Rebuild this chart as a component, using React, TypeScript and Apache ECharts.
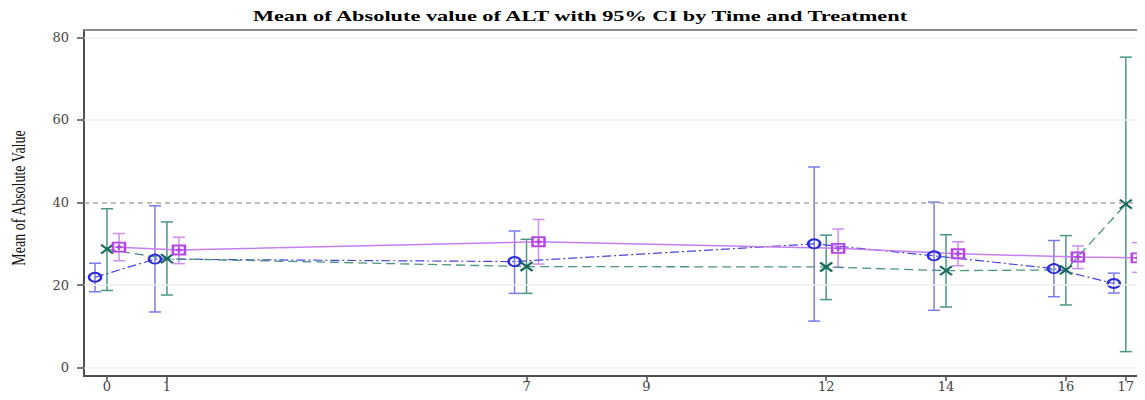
import { useEffect, useRef } from "react";
import * as echarts from "echarts";

const titleText = "Mean of Absolute value of ALT with 95% CI by Time and Treatment";
const yAxisTitle = "Mean of Absolute Value";

const timePoints = [0, 1, 7, 12, 14, 16, 17];
const xTickValues = [0, 1, 7, 9, 12, 14, 16, 17];
const yTickValues = [0, 20, 40, 60, 80];
const gridValues = [0, 20, 60, 80];
const referenceValue = 40;

// Group shown with blue circles (dash-dot line)
const blueMean = [21.9, 26.3, 25.7, 30.0, 27.1, 24.0, 20.4];
const blueLow = [18.4, 13.5, 18.0, 11.3, 13.9, 17.2, 18.1];
const blueHigh = [25.3, 39.2, 33.1, 48.6, 40.1, 30.8, 22.9];

// Group shown with teal crosses (dashed line)
const tealMean = [28.7, 26.4, 24.5, 24.4, 23.5, 23.7, 39.6];
const tealLow = [18.7, 17.6, 18.0, 16.5, 14.7, 15.2, 3.9];
const tealHigh = [38.5, 35.3, 31.1, 32.1, 32.2, 32.0, 75.2];

// Group shown with violet squares (solid line)
const violetMean = [29.2, 28.5, 30.5, 28.9, 27.6, 26.8, 26.6];
const violetLow = [25.9, 25.2, 25.1, 24.3, 24.7, 24.0, 23.1];
const violetHigh = [32.5, 31.6, 35.9, 33.6, 30.5, 29.5, 30.3];

const SERIF = "'Liberation Serif', 'Times New Roman', serif";
const TICK_FONT = "'DejaVu Serif', serif";

function errorBars(name: string, lows: number[], highs: number[], offset: number, color: string) {
  return {
    type: "custom",
    name: name + " CI",
    z: 2,
    silent: true,
    data: timePoints.map((t, i) => [t + offset, lows[i], highs[i]]),
    encode: { x: 0, y: [1, 2] },
    renderItem: (_params: any, api: any) => {
      const x = api.value(0);
      const lo = api.coord([x, api.value(1)]);
      const hi = api.coord([x, api.value(2)]);
      const hw = 6;
      const style = { stroke: color, lineWidth: 1.5 };
      return {
        type: "group",
        children: [
          { type: "line", shape: { x1: lo[0], y1: lo[1], x2: hi[0], y2: hi[1] }, style },
          { type: "line", shape: { x1: lo[0] - hw, y1: lo[1], x2: lo[0] + hw, y2: lo[1] }, style },
          { type: "line", shape: { x1: hi[0] - hw, y1: hi[1], x2: hi[0] + hw, y2: hi[1] }, style },
        ],
      };
    },
  };
}

function meanLine(
  name: string,
  means: number[],
  offset: number,
  symbol: string,
  symbolSize: number[],
  markerColor: string,
  lineColor: string,
  lineType: any,
  lineWidth: number
) {
  return {
    type: "line",
    name,
    z: 3,
    data: timePoints.map((t, i) => [t + offset, means[i]]),
    symbol,
    symbolSize,
    showSymbol: true,
    lineStyle: { color: lineColor, type: lineType, width: lineWidth },
    itemStyle: { color: "rgba(0,0,0,0)", borderColor: markerColor, borderWidth: 2.2 },
    emphasis: { disabled: true },
  };
}

export default function App() {
  const ref = useRef<HTMLDivElement>(null);

  useEffect(() => {
    if (!ref.current) return;
    const chart = echarts.init(ref.current, undefined, { renderer: "svg" });
    const option: any = {
      animation: false,
      backgroundColor: "#ffffff",
      grid: { left: 84, right: 0, top: 30, bottom: 24, containLabel: false },
      xAxis: [
        {
          type: "value",
          min: -0.384,
          max: 17.32,
          axisLine: { show: true, onZero: false, lineStyle: { color: "#4d4d4d", width: 2 } },
          axisTick: {
            show: true,
            customValues: xTickValues,
            length: 5,
            lineStyle: { color: "#4d4d4d", width: 1.5 },
          },
          axisLabel: {
            customValues: xTickValues,
            margin: 4,
            fontFamily: TICK_FONT,
            fontSize: 13,
            color: "#444",
          },
          splitLine: { show: false },
        },
        {
          type: "value",
          position: "top",
          min: -0.384,
          max: 17.32,
          axisLine: { show: true, onZero: false, lineStyle: { color: "#8a8a8a", width: 2 } },
          axisTick: { show: false },
          axisLabel: { show: false },
          splitLine: { show: false },
        },
      ],
      yAxis: {
        type: "value",
        min: -2,
        max: 81.77,
        axisLine: { show: true, onZero: false, lineStyle: { color: "#4d4d4d", width: 2 } },
        axisTick: {
          show: true,
          customValues: yTickValues,
          length: 7,
          lineStyle: { color: "#4d4d4d", width: 1.5 },
        },
        axisLabel: {
          customValues: yTickValues,
          margin: 15,
          fontFamily: TICK_FONT,
          fontSize: 13,
          color: "#444",
        },
        splitLine: { show: false },
      },
      graphic: [
        {
          type: "text",
          x: 580,
          y: 16,
          scaleX: 1.49,
          style: {
            text: titleText,
            align: "center",
            verticalAlign: "middle",
            fontFamily: SERIF,
            fontWeight: "bold",
            fontSize: 15,
            fill: "#000",
          },
        },
        {
          type: "text",
          x: 19,
          y: 198,
          rotation: Math.PI / 2,
          scaleY: 1.35,
          style: {
            text: yAxisTitle,
            align: "center",
            verticalAlign: "middle",
            fontFamily: SERIF,
            fontSize: 14,
            fill: "#111",
          },
        },
      ],
      series: [
        {
          type: "line",
          name: "grid",
          data: [],
          silent: true,
          markLine: {
            silent: true,
            symbol: "none",
            label: { show: false },
            lineStyle: { color: "#efefef", type: "solid", width: 1.5 },
            data: gridValues.map((v) => ({ yAxis: v })),
          },
        },
        {
          type: "line",
          name: "reference",
          data: [],
          silent: true,
          markLine: {
            silent: true,
            symbol: "none",
            label: { show: false },
            lineStyle: { color: "#a8a8a8", type: [5, 4], width: 1.5 },
            data: [{ yAxis: referenceValue }],
          },
        },
        errorBars("Blue", blueLow, blueHigh, -0.2, "#7a7af2"),
        errorBars("Teal", tealLow, tealHigh, 0, "#4a9686"),
        errorBars("Violet", violetLow, violetHigh, 0.2, "#d08ef2"),
        meanLine("Blue", blueMean, -0.2, "circle", [12, 9], "#2b2bd9", "#4646dc", [9, 3, 2, 3], 1.2),
        meanLine(
          "Teal",
          tealMean,
          0,
          "path://M0,0L10,10M10,0L0,10",
          [12, 9],
          "#17695a",
          "#4a9282",
          [9, 5],
          1.3
        ),
        meanLine(
          "Violet",
          violetMean,
          0.2,
          "path://M0,0H10V10H0Z M5,2V8 M2,5H8",
          [12, 9],
          "#b446e6",
          "#c57ff0",
          "solid",
          1.5
        ),
      ],
    };
    chart.setOption(option);
    return () => chart.dispose();
  }, []);

  return <div ref={ref} style={{ width: 1145, height: 400, margin: -8 }} />;
}
